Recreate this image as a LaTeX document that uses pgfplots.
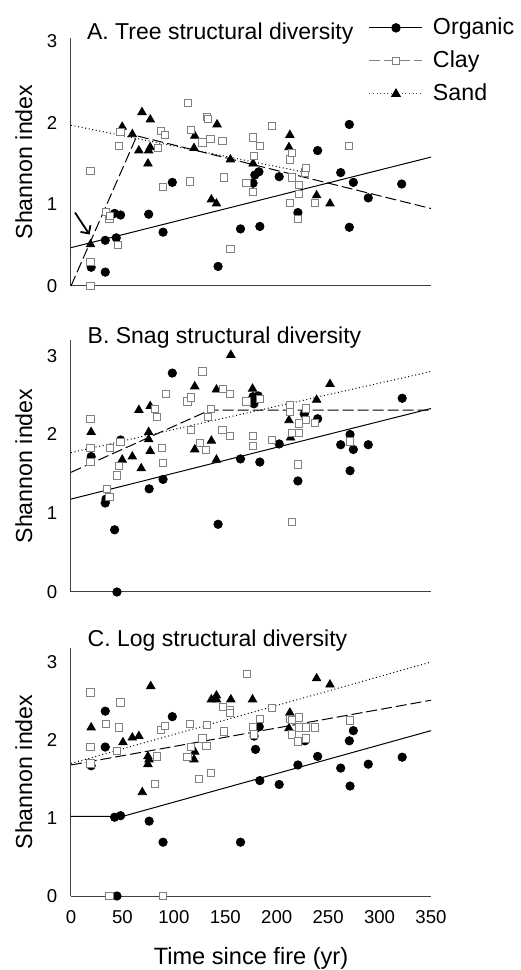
\documentclass[border=0pt]{standalone}
\usepackage{fontspec}
\setmainfont{Liberation Sans}
\usepackage{pgfplots}
\pgfplotsset{compat=1.18}
\usepackage{pgfplotstable}
\usetikzlibrary{arrows.meta}

% panel A: tree structural diversity
\pgfplotstableread{
x y
19.6 0.23
33.3 0.17
33.3 0.56
44 0.59
42.4 0.89
48.2 0.87
75.5 0.88
89.5 0.66
98.5 1.27
143 0.24
164.8 0.70
183.6 0.73
177 1.26
178.7 1.36
182.7 1.40
202.4 1.34
220.6 0.90
239.8 1.66
262.2 1.39
270.6 1.98
270.6 0.72
274.5 1.27
289 1.08
321.5 1.25
}\orgA
\pgfplotstableread{
x y
19 0
19 0.29
19 1.41
34.3 0.91
37.5 0.82
38 0.86
45.6 0.50
46.3 1.72
48.2 1.89
84.6 1.69
87.8 1.90
91.4 1.85
89.5 1.21
115.4 1.28
113.8 2.24
116.4 1.91
127.8 1.76
132.3 2.07
133.3 2.05
135.6 1.80
147.3 1.78
148.5 1.33
155 0.45
170.6 1.26
177 1.82
177 1.15
178 1.59
183.6 1.72
195.6 1.96
212.8 1.55
212.8 1.02
214.5 1.33
215 1.63
220.6 0.82
221.9 1.24
221.9 1.13
227.4 1.39
228.4 1.45
237.2 1.02
270.6 1.72
}\clyA
\pgfplotstableread{
x y
19 0.51
49.8 1.95
59.6 1.86
69 2.13
77.1 2.04
66 1.66
75.5 1.66
77 1.70
74.8 1.50
120.3 1.84
119.6 1.69
142 1.98
136.5 1.06
141.4 1.01
155 1.55
177 1.50
212.8 1.85
211.9 1.70
238.8 1.11
251.8 1.01
}\sndA

% panel B: snag structural diversity
\pgfplotstableread{
x y
44.7 0
42.4 0.79
33.3 1.13
34 1.18
19.6 1.72
48.2 1.93
76 1.31
89.5 1.43
98.5 2.78
143 0.86
164.8 1.69
183.6 1.65
177 2.48
182 2.49
177.8 2.39
202.4 1.88
220.6 1.41
226.8 2.26
239.8 2.20
262.2 1.87
271.3 2.00
271.3 1.54
274.5 1.81
289 1.87
322 2.46
}\orgB
\pgfplotstableread{
x y
19 2.20
19 1.83
19 1.65
34.9 1.31
37.5 1.21
38.2 1.83
48.2 1.90
46.6 1.60
45 1.48
81.3 2.32
84 2.22
88.5 1.83
89.5 1.64
92 2.51
113.2 2.42
116.4 2.47
116.4 2.06
125.2 1.89
131 1.80
127.8 2.80
133.3 2.22
135.9 2.32
148 2.58
154.4 2.51
147.3 2.06
154.4 1.98
170.6 2.42
177 1.98
177 1.85
183.6 2.45
195.6 1.93
212.8 2.37
212.8 2.29
214.5 2.02
221.9 2.02
220.6 1.62
215 0.89
221.9 2.14
228.4 2.18
228.4 2.33
237.2 2.15
271.3 1.91
}\clyB
\pgfplotstableread{
x y
19.6 2.03
49.8 1.68
59.6 1.72
68.3 1.57
66 2.31
77 2.36
75.5 2.03
75.5 1.94
77 1.79
120.3 2.61
120.3 1.81
136.5 1.92
141.4 2.57
141.4 1.68
155.4 3.01
176.5 2.58
211.9 2.18
213.5 1.96
238.8 2.44
251.8 2.64
}\sndB

% panel C: log structural diversity
\pgfplotstableread{
x y
44.7 0
42.4 1.01
48.2 1.03
33.3 2.37
33.3 1.91
19.6 1.67
76 0.96
89.5 0.69
98.5 2.30
164.8 0.69
183.6 1.48
202.4 1.43
179.4 1.88
183 2.17
178 2.05
220.6 1.68
239.8 1.79
227.4 1.99
262.2 1.64
270.6 1.99
271.3 1.41
274.5 2.12
289 1.69
322 1.78
}\orgC
\pgfplotstableread{
x y
37.5 0
89.5 0
19 2.61
19 1.91
19 1.70
34.3 2.21
48.2 2.48
46.3 2.16
45 1.86
81.3 1.44
84 1.79
87.8 2.13
91.7 2.18
115.4 2.21
116.4 1.91
113.2 1.78
124.5 1.50
127.8 2.02
131.7 1.92
132.6 2.19
135.9 1.58
147.9 2.42
154.4 2.39
154.4 2.35
148.5 2.11
171.3 2.85
177 2.17
178 2.07
183.6 2.27
195.6 2.41
212.8 2.27
215 2.26
221.9 2.29
215 2.07
221 1.98
228.4 2.02
221.9 2.16
228.4 2.16
237.2 2.16
271.3 2.25
}\clyC
\pgfplotstableread{
x y
19.6 2.16
50.5 1.97
59.6 2.03
66 2.05
69.3 1.33
77.5 2.69
74.8 1.79
75.8 1.75
74.8 1.69
120.3 1.85
119.6 1.75
136.5 2.52
141.4 2.57
141.4 2.52
155.4 2.52
176.5 2.52
212.8 2.35
211.9 2.15
238.8 2.79
251.8 2.71
}\sndC

\pgfplotsset{
  panel/.style={
    scale only axis, width=180pt,
    xmin=0, xmax=350, ymin=0,
    axis lines*=left,
    axis line style={-, black!75, line width=0.5pt},
    major tick length=0pt, tick style={draw=none},
    ytick={0,1,2,3}, xtick={0,50,...,350},
    clip=false,
    /pgf/number format/assume math mode=true,
    tick label style={font=\fontsize{9.3}{11}\selectfont},
    yticklabel style={xshift=-3.3pt},
    xticklabel style={yshift=-3.8pt},
    ylabel={Shannon index},
    ylabel style={at={(axis description cs:-0.108,0.5)}, anchor=base,
      font=\fontsize{11.6}{13}\selectfont},
  },
  org/.style={only marks, mark=*, mark size=2.1pt, black, forget plot},
  cly/.style={only marks, mark=square*, mark size=1.8pt,
    mark options={draw=gray, fill=white, line width=0.5pt}, forget plot},
  snd/.style={only marks, mark=triangle*, mark size=2.4pt, black, forget plot},
  orgfit/.style={black, line width=0.5pt, solid, no marks, forget plot},
  clyfit/.style={black, line width=0.5pt, dash pattern=on 5.5pt off 2pt, no marks, forget plot},
  sndfit/.style={black, line width=0.5pt, dash pattern=on 0.5pt off 1.3pt, no marks, forget plot},
}
\tikzset{ttl/.style={anchor=base west, font=\fontsize{11.5}{13}\selectfont}}

\begin{document}
\begin{tikzpicture}
\path[use as bounding box] (0,0) rectangle (260pt,485pt);

% ---- A ----
\begin{axis}[panel, at={(35.5pt,342pt)}, anchor=south west,
  height=124pt, ymax=3.04, xticklabels={},
  legend cell align=left,
  legend style={at={(axis description cs:0.81,1.113)}, anchor=north west,
    draw=none, fill=none, font=\fontsize{11.6}{13}\selectfont, row sep=3pt,
    nodes={inner sep=1pt, text height=9pt, text depth=2.5pt},
    /tikz/every odd column/.append style={column sep=4pt}},
  legend image code/.code={\draw[mark repeat=2,mark phase=2,#1]
    plot coordinates {(0pt,0pt) (13.25pt,0pt) (26.5pt,0pt)};},
]
\addlegendimage{black, line width=0.5pt, solid, mark=*, mark size=2.1pt, mark options={solid}}
\addlegendentry{Organic}
\addlegendimage{gray, line width=0.5pt, dash pattern=on 5.5pt off 2pt, mark=square*, mark size=1.8pt,
  mark options={solid, draw=gray, fill=white}}
\addlegendentry{Clay}
\addlegendimage{black!70, line width=0.5pt, dash pattern=on 0.5pt off 1.3pt, mark=triangle*, mark size=2.4pt,
  mark options={solid, black, fill=black}}
\addlegendentry{Sand}

\addplot[orgfit] coordinates {(0,0.47) (350,1.58)};
\addplot[clyfit] coordinates {(0,0) (64,1.84) (350,0.95)};
\addplot[sndfit] coordinates {(0,1.97) (225,1.40)};
\addplot[org] table {\orgA};
\addplot[snd] table {\sndA};
\addplot[cly] table {\clyA};
\node[ttl] at (axis cs:8.8,3.02) {A. Tree structural diversity};
\draw[-{Straight Barb[length=3pt,width=6pt]}, line width=0.9pt]
  (axis cs:3.9,0.90) -- (axis cs:18,0.63);
\end{axis}

% ---- B ----
\begin{axis}[panel, at={(35.5pt,189pt)}, anchor=south west,
  height=126pt, ymax=3.2, xticklabels={}]
\addplot[orgfit] coordinates {(0,1.18) (350,2.33)};
\addplot[clyfit] coordinates {(0,1.52) (135,2.31) (350,2.31)};
\addplot[sndfit] coordinates {(0,1.77) (350,2.80)};
\addplot[org] table {\orgB};
\addplot[snd] table {\sndB};
\addplot[cly] table {\clyB};
\node[ttl] at (axis cs:9.4,3.16) {B. Snag structural diversity};
\end{axis}

% ---- C ----
\begin{axis}[panel, at={(35.5pt,37pt)}, anchor=south west,
  height=124pt, ymax=3.18,
  xlabel={Time since fire (yr)},
  xlabel style={at={(axis description cs:0.5,-0.278)}, anchor=base,
    font=\fontsize{11.8}{13}\selectfont}]
\addplot[orgfit] coordinates {(0,1.02) (50,1.02) (350,2.12)};
\addplot[clyfit] coordinates {(0,1.68) (350,2.51)};
\addplot[sndfit] coordinates {(0,1.70) (350,3.00)};
\addplot[org] table {\orgC};
\addplot[snd] table {\sndC};
\addplot[cly] table {\clyC};
\node[ttl] at (axis cs:9.4,3.20) {C. Log structural diversity};
\end{axis}
\end{tikzpicture}
\end{document}
